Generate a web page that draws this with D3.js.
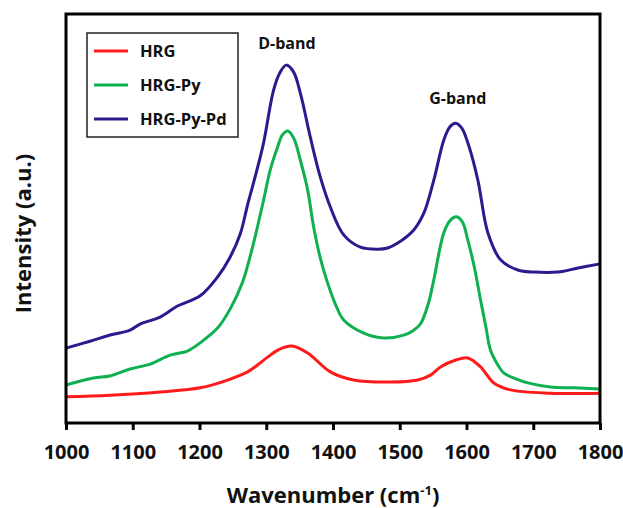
<!DOCTYPE html>
<html>
<head>
<meta charset="utf-8">
<script src="https://cdn.jsdelivr.net/npm/d3@7"></script>
<style>
  body { margin: 0; background: #fff; }
  text { font-family: "Open Sans", sans-serif; font-weight: 700; fill: #111; }
</style>
</head>
<body>
<script>
// Raman spectra (wavenumber cm-1, intensity a.u.)
const hrgWave = [1000, 1066, 1141, 1201, 1242, 1272, 1287, 1302, 1318, 1338, 1362, 1396, 1431, 1486, 1527, 1546, 1561, 1584, 1602, 1621, 1641, 1666, 1726, 1800];
const hrgInt  = [6.4, 6.8, 7.6, 8.6, 10.5, 12.5, 14.2, 16.1, 17.9, 18.8, 17.1, 12.5, 10.5, 10.0, 10.5, 11.7, 13.7, 15.4, 15.9, 13.7, 9.8, 8.1, 7.3, 7.3];

const pyWave = [1000, 1041, 1066, 1096, 1126, 1156, 1182, 1201, 1227, 1246, 1264, 1272, 1284, 1296, 1306, 1317, 1324, 1332, 1341, 1351, 1362, 1371, 1381, 1392, 1404, 1416, 1446, 1476, 1506, 1521, 1531, 1543, 1551, 1566, 1576, 1585, 1594, 1602, 1612, 1621, 1629, 1636, 1647, 1656, 1674, 1692, 1726, 1761, 1800];
const pyInt  = [9.3, 11.0, 11.5, 13.2, 14.4, 16.6, 17.6, 19.6, 23.2, 27.9, 34.2, 38.4, 46.0, 54.5, 61.9, 67.5, 70.4, 71.4, 69.7, 64.3, 57.0, 47.9, 40.3, 34.2, 28.9, 25.2, 22.0, 20.8, 21.5, 22.7, 24.2, 29.3, 35.0, 46.5, 49.6, 50.4, 49.1, 44.7, 37.9, 30.1, 23.5, 17.8, 14.2, 12.2, 10.8, 9.8, 8.8, 8.6, 8.3];

const pdWave = [1000, 1036, 1066, 1096, 1111, 1141, 1167, 1201, 1227, 1246, 1261, 1272, 1284, 1296, 1311, 1321, 1330, 1341, 1351, 1366, 1381, 1396, 1416, 1441, 1467, 1482, 1497, 1521, 1536, 1551, 1566, 1575, 1584, 1593, 1602, 1617, 1632, 1651, 1677, 1701, 1737, 1767, 1800];
const pdInt  = [18.3, 20.0, 21.5, 22.7, 24.2, 25.9, 28.6, 31.1, 35.7, 40.6, 46.2, 53.3, 60.6, 68.5, 81.4, 85.8, 87.5, 85.8, 80.7, 69.9, 60.1, 52.8, 46.0, 43.0, 42.5, 42.8, 44.0, 47.2, 51.3, 59.4, 69.2, 72.4, 73.3, 72.1, 68.5, 59.4, 46.5, 39.9, 37.4, 36.9, 36.9, 37.9, 38.9];

const seriesNames = ["HRG", "HRG-Py", "HRG-Py-Pd"];
const seriesColors = ["#ff1a1a", "#0fb050", "#2e1a8e"];
const xTicks = [1000, 1100, 1200, 1300, 1400, 1500, 1600, 1700, 1800];
const bandLabels = [{ name: "D-band", x: 1331, y: 91.5 }, { name: "G-band", x: 1587, y: 78 }];

const W = 623, H = 508;
const m = { left: 66, right: 23, top: 14, bottom: 85 };

const svg = d3.select("body").append("svg")
  .attr("width", W)
  .attr("height", H);

const x = d3.scaleLinear().domain([1000, 1800]).range([m.left, W - m.right]);
const y = d3.scaleLinear().domain([0, 100]).range([H - m.bottom, m.top]);

const series = [
  d3.zip(hrgWave, hrgInt),
  d3.zip(pyWave, pyInt),
  d3.zip(pdWave, pdInt)
];

const line = d3.line()
  .x(d => x(d[0]))
  .y(d => y(d[1]))
  .curve(d3.curveCatmullRom.alpha(0.5));

svg.append("g").selectAll("path")
  .data(series)
  .join("path")
  .attr("d", line)
  .attr("fill", "none")
  .attr("stroke", (d, i) => seriesColors[i])
  .attr("stroke-width", 3)
  .attr("stroke-linejoin", "round");

// frame
svg.append("rect")
  .attr("x", m.left)
  .attr("y", m.top)
  .attr("width", W - m.left - m.right)
  .attr("height", H - m.top - m.bottom)
  .attr("fill", "none")
  .attr("stroke", "#000")
  .attr("stroke-width", 3);

// x axis
const xAxis = svg.append("g")
  .attr("transform", `translate(0,${H - m.bottom})`)
  .call(d3.axisBottom(x).tickValues(xTicks).tickSize(7).tickPadding(15).tickFormat(d3.format("d")));
xAxis.select(".domain").remove();
xAxis.selectAll(".tick line").attr("stroke", "#000").attr("stroke-width", 3);
xAxis.selectAll(".tick text")
  .style("font-family", "'Open Sans', sans-serif")
  .style("font-weight", 700)
  .style("font-size", "20px")
  .attr("fill", "#111");

// axis titles
const xTitle = svg.append("text")
  .attr("x", (m.left + W - m.right) / 2)
  .attr("y", 503)
  .attr("text-anchor", "middle")
  .style("font-size", "22px");
xTitle.append("tspan").text("Wavenumber (cm");
xTitle.append("tspan").text("-1").attr("dy", -8).style("font-size", "13px");
xTitle.append("tspan").text(")").attr("dy", 8);

svg.append("text")
  .attr("transform", `translate(31,${(m.top + H - m.bottom) / 2 + 15}) rotate(-90)`)
  .attr("text-anchor", "middle")
  .style("font-size", "22px")
  .text("Intensity (a.u.)");

// band labels
svg.selectAll(".band")
  .data(bandLabels)
  .join("text")
  .attr("class", "band")
  .attr("x", d => x(d.x))
  .attr("y", d => y(d.y))
  .attr("text-anchor", "middle")
  .style("font-size", "16px")
  .text(d => d.name);

// legend
const legend = svg.append("g").attr("transform", "translate(87,33)");
legend.append("rect")
  .attr("width", 151)
  .attr("height", 104)
  .attr("fill", "#fff")
  .attr("stroke", "#222")
  .attr("stroke-width", 1.5);

const rows = legend.selectAll(".row")
  .data(seriesNames)
  .join("g")
  .attr("transform", (d, i) => `translate(0,${18 + i * 34})`);
rows.append("line")
  .attr("x1", 7).attr("x2", 41)
  .attr("stroke", (d, i) => seriesColors[i])
  .attr("stroke-width", 3);
rows.append("text")
  .attr("x", 53)
  .attr("dy", "0.35em")
  .style("font-size", "16.5px")
  .text(d => d);
</script>
</body>
</html>
